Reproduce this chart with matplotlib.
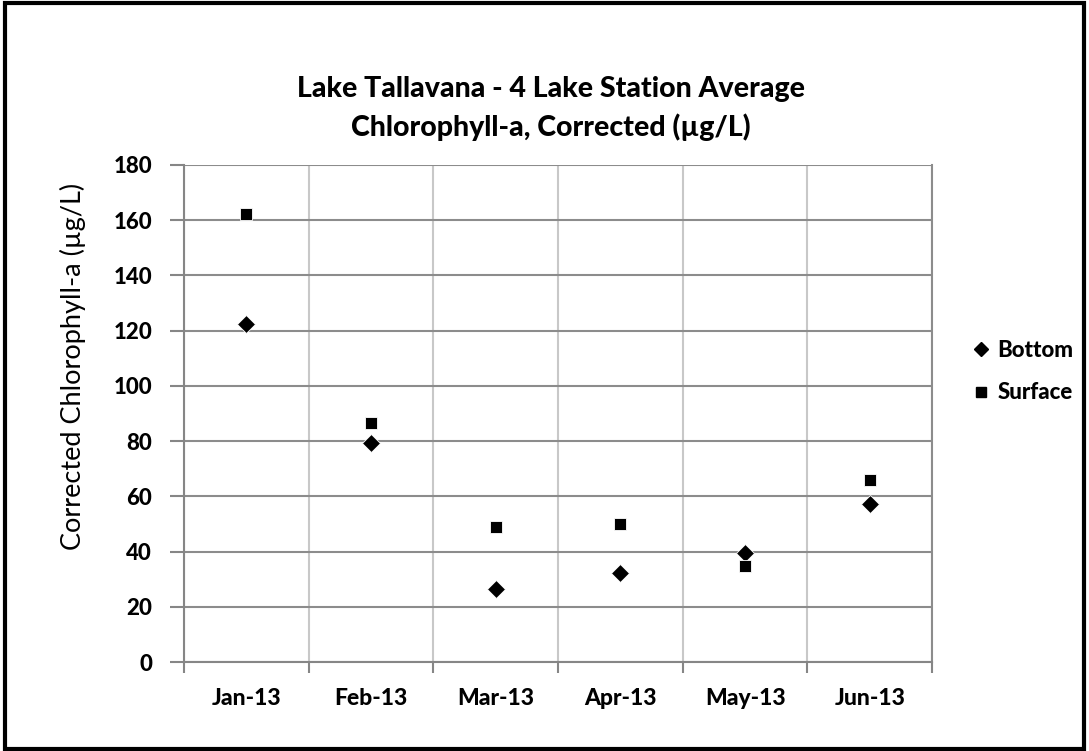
import matplotlib
matplotlib.use("Agg")
import matplotlib.pyplot as plt
from matplotlib.lines import Line2D
from matplotlib.patches import Rectangle
import numpy as np

plt.rcParams['font.family'] = ['Lato', 'DejaVu Sans']

# data
months = ['Jan-13', 'Feb-13', 'Mar-13', 'Apr-13', 'May-13', 'Jun-13']
bottom = [122.5, 79.3, 26.5, 32.2, 39.3, 57.3]
surface = [162.4, 86.6, 48.8, 49.9, 34.9, 66.0]
y_ticks = [0, 20, 40, 60, 80, 100, 120, 140, 160, 180]

BOLD = 900

fig = plt.figure(figsize=(10.89, 7.51), dpi=100)
ax = fig.add_axes([0.169, 0.1185, 0.6869, 0.6618])

x = np.arange(len(months))
ax.plot(x, bottom, linestyle='none', marker='D', markersize=9,
        color='black', markeredgecolor='white', markeredgewidth=0.6, label='Bottom', zorder=3)
ax.plot(x, surface, linestyle='none', marker='s', markersize=8.5,
        color='black', markeredgecolor='white', markeredgewidth=0.6, label='Surface', zorder=3)

# category axis: ticks on boundaries, labels at centres
ax.set_xlim(-0.5, len(months) - 0.5)
ax.set_xticks(np.arange(len(months) + 1) - 0.5)
ax.set_xticklabels([])
ax.set_xticks(x, minor=True)
ax.set_xticklabels(months, minor=True, fontsize=16.5, fontweight=BOLD)
ax.tick_params(axis='x', which='minor', length=0, pad=19)
ax.tick_params(axis='x', which='major', length=8, width=1.5, color='#868686', direction='out')

ax.set_ylim(0, 180)
ax.set_yticks(y_ticks)
ax.set_yticklabels([str(v) for v in y_ticks], fontsize=16, fontweight=BOLD)
ax.tick_params(axis='y', length=10, width=1.5, color='#868686', pad=13)

ax.grid(axis='y', color='#8c8c8c', linewidth=1.5)
ax.grid(axis='x', which='major', color='#c8c8c8', linewidth=1.5)
ax.set_axisbelow(True)

for side in ['left', 'bottom']:
    ax.spines[side].set_color('#868686')
    ax.spines[side].set_linewidth(1.5)
ax.spines['top'].set_visible(False)
ax.spines['right'].set_color('#8c8c8c')
ax.spines['right'].set_linewidth(1.5)

fig.text(73 / 1089, 0.512, 'Corrected Chlorophyll-a (µg/L)', rotation=90,
         ha='center', va='center', fontsize=19.5)

fig.text(0.506, 0.8815, 'Lake Tallavana - 4 Lake Station Average',
         ha='center', va='center', fontsize=20.5, fontweight=BOLD)
fig.text(0.506, 0.831, 'Chlorophyll-a, Corrected (µg/L)',
         ha='center', va='center', fontsize=20.5, fontweight=BOLD)

handles = [Line2D([], [], linestyle='none', marker='D', markersize=7, color='black'),
           Line2D([], [], linestyle='none', marker='s', markersize=6.5, color='black')]
fig.legend(handles, ['Bottom', 'Surface'], loc='center left',
           bbox_to_anchor=(0.876, 0.505), frameon=False, handlelength=0.6,
           handletextpad=0.45, labelspacing=0.95, prop={'size': 16, 'weight': BOLD})

# chart border
fig.patches.append(Rectangle((0.005, 0.003), 0.99, 0.993, transform=fig.transFigure,
                             fill=False, edgecolor='black', linewidth=3))

fig.savefig('out.png', dpi=100)
